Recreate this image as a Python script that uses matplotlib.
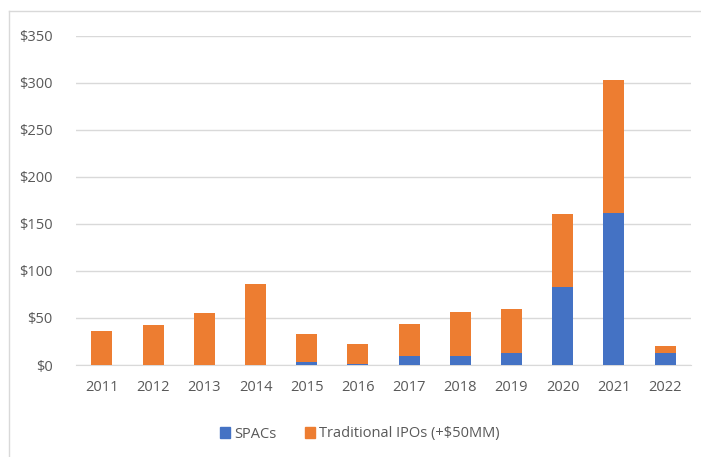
import numpy as np
import matplotlib.pyplot as plt
from matplotlib.lines import Line2D

years = ['2011', '2012', '2013', '2014', '2015', '2016',
         '2017', '2018', '2019', '2020', '2021', '2022']
spacs = [0, 0, 0, 0, 3, 1.5, 9.5, 9.5, 12.5, 83, 162, 12.5]
totals = [36, 42, 55, 86, 33, 22, 44, 56, 59, 160, 303, 20]
trad_ipos = [t - s for t, s in zip(totals, spacs)]

blue = '#4472C4'
orange = '#ED7D31'
grey = '#595959'

plt.rcParams['font.family'] = ['Open Sans', 'DejaVu Sans']

fig = plt.figure(figsize=(7.01, 4.57), dpi=100)
ax = fig.add_axes([76.4/701, 1 - 365/457, 614.2/701, 329.3/457])

x = np.arange(len(years))
ax.bar(x, spacs, width=0.41, color=blue, label='SPACs', zorder=3)
ax.bar(x, trad_ipos, width=0.41, bottom=spacs, color=orange,
       label='Traditional IPOs (+$50MM)', zorder=3)

ax.set_xlim(-0.5, len(years) - 0.5)
ax.set_ylim(0, 350)
ax.set_yticks(range(0, 351, 50))
ax.set_yticklabels(['$' + str(v) for v in range(0, 351, 50)])
ax.set_xticks(x)
ax.set_xticklabels(years)
ax.tick_params(length=0, labelsize=10.5, labelcolor=grey, pad=11)
ax.tick_params(axis='y', pad=17)
ax.grid(axis='y', color='#d9d9d9', linewidth=1, zorder=0)
for s in ['top', 'right', 'left']:
    ax.spines[s].set_visible(False)
ax.spines['bottom'].set_color('#d9d9d9')

handles = [plt.Rectangle((0, 0), 1, 1, color=blue),
           plt.Rectangle((0, 0), 1, 1, color=orange)]
fig.legend(handles, ['SPACs', 'Traditional IPOs (+$50MM)'],
           loc='center', bbox_to_anchor=(360/701, 1 - 434/457), ncol=2,
           frameon=False, fontsize=10.5, labelcolor=grey,
           handlelength=0.7, handleheight=0.7, handletextpad=0.3,
           columnspacing=1.9)

# chart border (left and top edges visible in the crop)
fig.add_artist(Line2D([9/701, 9/701], [0, 1 - 11/457], color='#d9d9d9', lw=1))
fig.add_artist(Line2D([9/701, 1], [1 - 11/457, 1 - 11/457], color='#d9d9d9', lw=1))

fig.savefig('out.png', dpi=100)
